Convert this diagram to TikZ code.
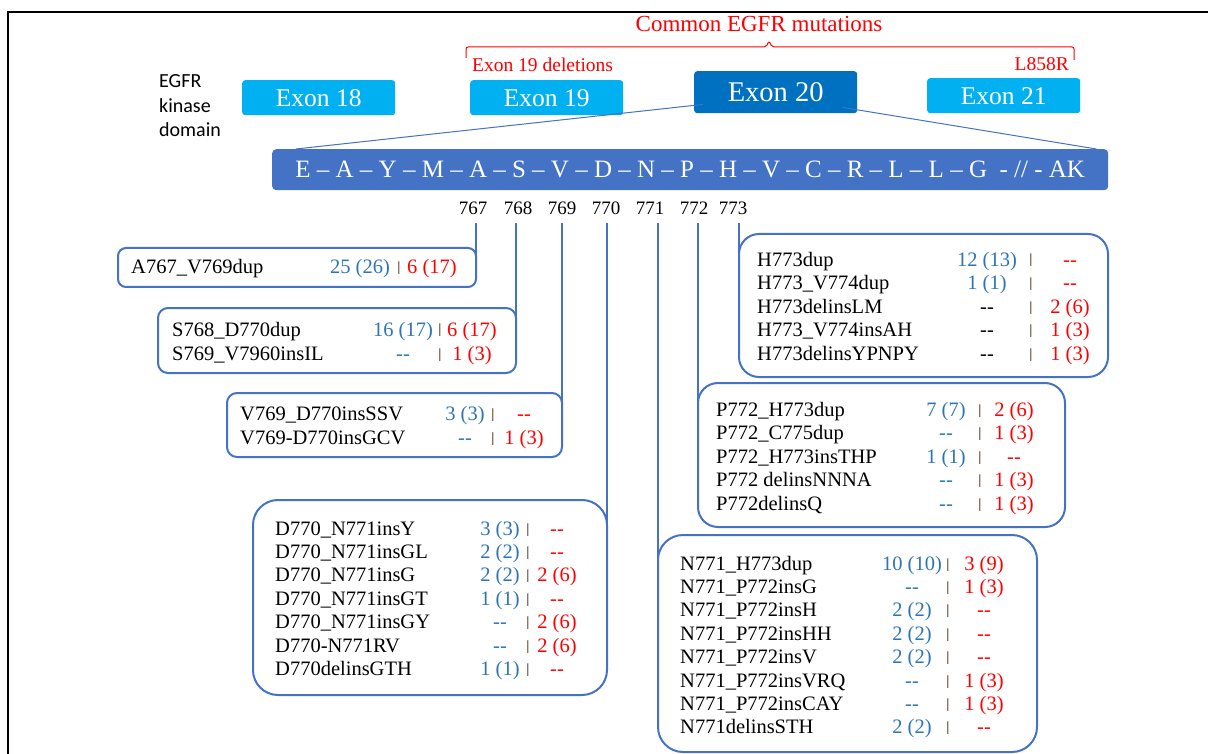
\documentclass[tikz,border=0pt]{standalone}
\usepackage{fontspec}
\setmainfont{Liberation Serif}
\newfontfamily\labelfont{Carlito}
\usetikzlibrary{calc}
\definecolor{exonlight}{RGB}{0,176,240}
\definecolor{exondark}{RGB}{0,112,192}
\definecolor{seqblue}{RGB}{68,114,196}
\definecolor{countblue}{RGB}{46,117,182}
\definecolor{countred}{RGB}{255,0,0}
\definecolor{sepbrown}{RGB}{90,60,40}
\newcommand{\rowfont}{\rmfamily\fontsize{20.5}{24}\selectfont}
\tikzset{
  exon/.style={
    rounded corners=3pt,
    fill=exonlight,
    text=white,
    inner sep=0pt,
    anchor=north west,
    minimum width=153pt,
    minimum height=35pt,
    font=\rmfamily\fontsize{25.5}{30}\selectfont
  },
  exon-main/.style={exon, fill=exondark, minimum width=163pt, minimum height=42pt,
    font=\rmfamily\fontsize{28.5}{34}\selectfont},
  seq/.style={rounded corners=4pt, fill=seqblue, text=white, inner sep=0pt,
    anchor=north west, minimum width=836pt, minimum height=41pt,
    font=\rmfamily\fontsize{25}{30}\selectfont},
  link/.style={draw=seqblue, line width=2pt},
  zoomline/.style={draw=seqblue, line width=1pt},
  brace/.style={draw=countred, line width=1pt, rounded corners=2pt},
  mutbox/.style={draw=seqblue, line width=2pt, inner sep=0pt, outer sep=0pt, anchor=north west},
  redlabel/.style={text=countred, inner sep=0pt},
  posnum/.style={anchor=base, inner sep=0pt, font=\rmfamily\fontsize{19}{22}\selectfont},
  kinase-label/.style={anchor=base west, inner sep=0pt, font=\labelfont\fontsize{20}{24}\selectfont},
  mut-name/.style={anchor=base west, inner sep=0pt, font=\rowfont},
  mut-blue/.style={anchor=base, inner sep=0pt, text=countblue, font=\rowfont},
  mut-red/.style={anchor=base, inner sep=0pt, text=countred, font=\rowfont},
  mut-sep/.style={anchor=base, inner sep=0pt, text=sepbrown, font=\rmfamily\bfseries\fontsize{14}{16}\selectfont}
}
% one row of a mutation box: id, baseline, name, blue count, red count
\newcommand{\mutrow}[5]{
  \node[mut-name] (#1-n) at (\colname,#2) {#3};
  \node[mut-blue] (#1-b) at (\colblue,#2) {#4};
  \node[mut-sep]  (#1-s) at (\colbar,{#2-2}) {|};
  \node[mut-red]  (#1-r) at (\colred,#2) {#5};
}

\begin{document}
\begin{tikzpicture}[x=1pt,y=-1pt]
  \useasboundingbox (0,0) rectangle (1208,754);
  \draw[line width=2pt] (8,754) -- (8,12) -- (1208,12);

  % Common mutations brace
  \node[redlabel, anchor=base, font=\rmfamily\fontsize{23}{28}\selectfont] (common) at (759,32) {Common EGFR mutations};
  \draw[brace] (466,58) -- (466,47) -- (766,47) -- (769,41) -- (772,47) -- (1074,47) -- (1074,60);
  \node[redlabel, anchor=base west, font=\rmfamily\fontsize{19.5}{24}\selectfont] (del19) at (472,72) {Exon 19 deletions};
  \node[redlabel, anchor=base east, font=\rmfamily\fontsize{19.5}{24}\selectfont] (l858r) at (1069,71) {L858R};

  % Kinase domain
  \node[kinase-label] (egfr) at (159,88) {EGFR};
  \node[kinase-label] (kinase) at (159,113) {kinase};
  \node[kinase-label] (domain) at (159,137) {domain};
  \node[exon] (exon18) at (242,80) {Exon 18};
  \node[exon] (exon19) at (470,80) {Exon 19};
  \node[exon-main] (exon20) at (694,71) {Exon 20};
  \node[exon] (exon21) at (927,78) {Exon 21};

  % Exon 20 sequence
  \node[seq] (seqbox) at (272,149) {E -- A -- Y -- M -- A -- S -- V -- D -- N -- P -- H -- V -- C -- R -- L -- L -- G \ - // - AK};
  \draw[zoomline] ($(exon20.south west)+(9,-9)$) -- ($(seqbox.north west)+(24,0)$);
  \draw[zoomline] ($(exon20.south east)+(-15,-6)$) -- ($(seqbox.north east)+(-12,0)$);
  \foreach \num/\x in {767/473, 768/518, 769/562, 770/606, 771/650, 772/694, 773/733}
    \node[posnum] (n\num) at (\x,215) {\num};

  % Mutation boxes
  \node[mutbox, rounded corners=8pt, minimum width=358pt, minimum height=39pt] (a767box) at (118,248) {};
  \node[mutbox, rounded corners=10pt, minimum width=358pt, minimum height=65pt] (s768box) at (158,308) {};
  \node[mutbox, rounded corners=10pt, minimum width=335pt, minimum height=64pt] (v769box) at (227,393) {};
  \node[mutbox, rounded corners=25pt, minimum width=354pt, minimum height=195pt] (d770box) at (253,500) {};
  \node[mutbox, rounded corners=20pt, minimum width=369pt, minimum height=143pt] (h773box) at (739,234) {};
  \node[mutbox, rounded corners=20pt, minimum width=367pt, minimum height=144pt] (p772box) at (698,383) {};
  \node[mutbox, rounded corners=25pt, minimum width=379pt, minimum height=217pt] (n771box) at (658,535) {};

  % Position links
  \draw[link] ([yshift=-8pt]a767box.east |- n767.south) -- (a767box.east);
  \draw[link] ([yshift=-8pt]s768box.east |- n768.south) -- (s768box.east);
  \draw[link] ([yshift=-8pt]v769box.east |- n769.south) -- (v769box.east);
  \draw[link] ([yshift=-8pt]d770box.east |- n770.south) -- (d770box.east);
  \draw[link] ([yshift=-8pt]n771box.west |- n771.south) -- (n771box.west);
  \draw[link] ([yshift=-8pt]p772box.west |- n772.south) -- (p772box.west);
  \draw[link] ([yshift=-8pt]h773box.west |- n773.south) -- (h773box.west);

  % A767
  \def\colname{131}\def\colblue{360}\def\colbar{399}\def\colred{432}
  \mutrow{a767-0}{274}{A767\_V769dup}{25 (26)}{6 (17)}
  % S768
  \def\colname{172}\def\colblue{403}\def\colbar{440}\def\colred{472}
  \foreach \nm/\bl/\rd [count=\i from 0] in {
      S768\_D770dup/16 (17)/6 (17),
      S769\_V7960insIL/-{}-/1 (3)}
    {\mutrow{s768-\i}{336+\i*24}{\nm}{\bl}{\rd}}
  % V769
  \def\colname{240}\def\colblue{465}\def\colbar{493}\def\colred{524}
  \foreach \nm/\bl/\rd [count=\i from 0] in {
      V769\_D770insSSV/3 (3)/-{}-,
      V769-D770insGCV/-{}-/1 (3)}
    {\mutrow{v769-\i}{420+\i*24}{\nm}{\bl}{\rd}}
  % D770
  \def\colname{275}\def\colblue{500}\def\colbar{528}\def\colred{557}
  \foreach \nm/\bl/\rd [count=\i from 0] in {
      D770\_N771insY/3 (3)/-{}-,
      D770\_N771insGL/2 (2)/-{}-,
      D770\_N771insG/2 (2)/2 (6),
      D770\_N771insGT/1 (1)/-{}-,
      D770\_N771insGY/-{}-/2 (6),
      D770-N771RV/-{}-/2 (6),
      D770delinsGTH/1 (1)/-{}-}
    {\mutrow{d770-\i}{535+\i*23.4}{\nm}{\bl}{\rd}}
  % H773
  \def\colname{757}\def\colblue{987}\def\colbar{1031}\def\colred{1070}
  \foreach \nm/\bl/\rd [count=\i from 0] in {
      H773dup/12 (13)/-{}-,
      H773\_V774dup/1 (1)/-{}-,
      H773delinsLM/{\color{black}-{}-}/2 (6),
      H773\_V774insAH/{\color{black}-{}-}/1 (3),
      H773delinsYPNPY/{\color{black}-{}-}/1 (3)}
    {\mutrow{h773-\i}{266+\i*23.5}{\nm}{\bl}{\rd}}
  % P772
  \def\colname{716}\def\colblue{946}\def\colbar{980}\def\colred{1014}
  \foreach \nm/\bl/\rd [count=\i from 0] in {
      P772\_H773dup/7 (7)/2 (6),
      P772\_C775dup/-{}-/1 (3),
      P772\_H773insTHP/1 (1)/-{}-,
      P772 delinsNNNA/-{}-/1 (3),
      P772delinsQ/-{}-/1 (3)}
    {\mutrow{p772-\i}{416+\i*23.5}{\nm}{\bl}{\rd}}
  % N771
  \def\colname{680}\def\colblue{912}\def\colbar{948}\def\colred{984}
  \foreach \nm/\bl/\rd [count=\i from 0] in {
      N771\_H773dup/10 (10)/3 (9),
      N771\_P772insG/-{}-/1 (3),
      N771\_P772insH/2 (2)/-{}-,
      N771\_P772insHH/2 (2)/-{}-,
      N771\_P772insV/2 (2)/-{}-,
      N771\_P772insVRQ/-{}-/1 (3),
      N771\_P772insCAY/-{}-/1 (3),
      N771delinsSTH/2 (2)/-{}-}
    {\mutrow{n771-\i}{570+\i*23.4}{\nm}{\bl}{\rd}}
\end{tikzpicture}
\end{document}
